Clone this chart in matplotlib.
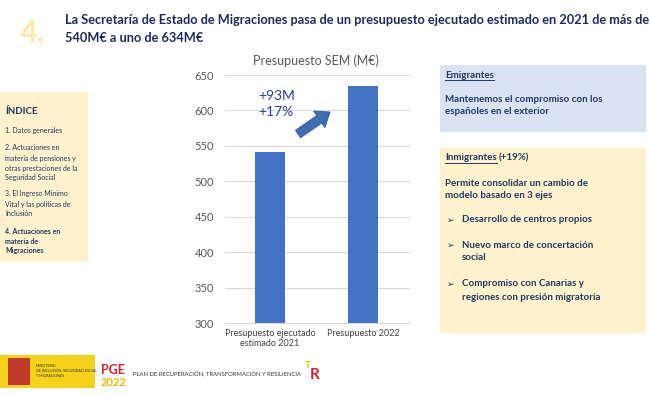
import numpy as np
import matplotlib
matplotlib.use('Agg')
import matplotlib.pyplot as plt
from matplotlib.patches import Rectangle, FancyArrow
from matplotlib.lines import Line2D
from matplotlib.transforms import Affine2D

plt.rcParams['font.family'] = ['Lato', 'DejaVu Sans']

# data
categories = ['Presupuesto ejecutado\nestimado 2021', 'Presupuesto 2022']
values = [541, 634]
yticks = [300, 350, 400, 450, 500, 550, 600, 650]

W, H = 650, 395
fig = plt.figure(figsize=(6.5, 3.95), dpi=100)
fig.patch.set_facecolor('white')
# pixel coords from the top-left corner
px = Affine2D().scale(1 / W, -1 / H).translate(0, 1) + fig.transFigure

def fx(x):
    return x / W

def fy(y):
    return 1 - y / H

def box(x0, y0, x1, y1, color):
    fig.patches.append(Rectangle((x0, y0), x1 - x0, y1 - y0, transform=px,
                                 facecolor=color, edgecolor='none', zorder=0))

def txt(x, y, s, **kw):
    kw.setdefault('color', '#1F3864')
    kw.setdefault('va', 'center')
    return fig.text(fx(x), fy(y), s, **kw)

navy = '#1F3864'

# title
txt(20, 33, '4.', fontsize=22, fontweight='bold', color='#FFE9A8')
txt(65, 20, 'La Secretaría de Estado de Migraciones pasa de un presupuesto ejecutado estimado en 2021 de más de',
    fontsize=9.2, fontweight='bold', color='#1F2A5C')
txt(65, 38, '540M€ a uno de 634M€', fontsize=9.2, fontweight='bold', color='#1F2A5C')

# index box
box(0, 92, 88, 262, '#FFF2CC')
txt(5, 111, 'ÍNDICE', fontsize=7, fontweight='bold')
idx_lines = [(130, '1. Datos generales', 'normal'),
             (148, '2. Actuaciones en', 'normal'),
             (158, 'materia de pensiones y', 'normal'),
             (168, 'otras prestaciones de la', 'normal'),
             (178, 'Seguridad Social', 'normal'),
             (194, '3. El Ingreso Mínimo', 'normal'),
             (204, 'Vital y las políticas de', 'normal'),
             (214, 'Inclusión', 'normal'),
             (231, '4. Actuaciones en', 'bold'),
             (241, 'materia de', 'bold'),
             (251, 'Migraciones', 'bold')]
for y, s, w in idx_lines:
    txt(5, y, s, fontsize=5, fontweight=w)

# right boxes
box(440, 65, 646, 132, '#DAE3F3')
box(440, 148, 646, 333, '#FFF2CC')

underlined = []
underlined.append(txt(445, 75, 'Emigrantes', fontsize=7, fontweight='bold'))
txt(445, 99, 'Mantenemos el compromiso con los', fontsize=7, fontweight='bold')
txt(445, 111, 'españoles en el exterior', fontsize=7, fontweight='bold')

inm = txt(445, 158, 'Inmigrantes', fontsize=7, fontweight='bold')
underlined.append(inm)
txt(445, 183, 'Permite consolidar un cambio de', fontsize=7, fontweight='bold')
txt(445, 196, 'modelo basado en 3 ejes', fontsize=7, fontweight='bold')
bullets = [(220, ['Desarrollo de centros propios']),
           (245, ['Nuevo marco de concertación', 'social']),
           (284, ['Compromiso con Canarias y', 'regiones con presión migratoria'])]
for y, lines in bullets:
    txt(447, y, '➢', fontsize=6.5, color=navy)
    for i, s in enumerate(lines):
        txt(462, y + 13 * i, s, fontsize=7, fontweight='bold')

# chart
ax = fig.add_axes([fx(225), fy(323), fx(410 - 225), (323 - 75) / H])
x = np.arange(len(values))
ax.bar(x, values, width=0.32, color='#4472C4', zorder=2)
ax.set_ylim(300, 650)
ax.set_xlim(-0.484, 1.505)
ax.set_yticks(yticks)
ax.set_xticks(x)
ax.set_xticklabels(categories, fontsize=6.5, color='#404040')
ax.tick_params(axis='y', labelsize=8, colors='#595959', length=0, pad=8)
ax.tick_params(axis='x', length=0, pad=4)
ax.grid(axis='y', color='#D9D9D9', linewidth=0.8, zorder=0)
for s in ax.spines.values():
    s.set_visible(False)
ax.spines['bottom'].set_visible(True)
ax.spines['bottom'].set_color('#D9D9D9')
ax.set_facecolor('none')
txt(316, 61, 'Presupuesto SEM (M€)', fontsize=9, color='#595959', ha='center')

# change annotation
txt(258, 96, '+93M', fontsize=10, color='#2F3F8F')
txt(258, 112, '+17%', fontsize=10, color='#2F3F8F')
fig.patches.append(FancyArrow(298, 134, 32, -22, width=9, head_width=20,
                              head_length=13, transform=px,
                              facecolor='#3C6EB4', edgecolor='#2F5597',
                              linewidth=0.6, length_includes_head=True, zorder=3))

# footer logos
box(0, 355, 95, 388, '#F5D21A')
box(8, 358, 30, 385, '#C0392B')
txt(36, 366, 'MINISTERIO', fontsize=2.6, color='#333333')
txt(36, 371, 'DE INCLUSIÓN, SEGURIDAD SOCIAL', fontsize=2.6, color='#333333')
txt(36, 376, 'Y MIGRACIONES', fontsize=2.6, color='#333333')
txt(101, 370, 'PGE', fontsize=9, fontweight='bold', color='#D0202E')
txt(101, 382, '2022', fontsize=8, fontweight='bold', color='#F2B705')
txt(133, 374, 'PLAN DE RECUPERACIÓN, TRANSFORMACIÓN Y RESILIENCIA', fontsize=4.2, color='#333333')
txt(305, 366, 'T', fontsize=7, fontweight='bold', color='#F2B705')
txt(310, 375, 'R', fontsize=11, fontweight='bold', color='#D0202E')

# underlines and the text after "Inmigrantes"
fig.canvas.draw()
r = fig.canvas.get_renderer()
inv = fig.transFigure.inverted()
for t in underlined:
    bb = t.get_window_extent(r).transformed(inv)
    fig.lines.append(Line2D([bb.x0, bb.x1], [bb.y0 - 0.002, bb.y0 - 0.002],
                            transform=fig.transFigure, color=navy, linewidth=0.7))
bb = inm.get_window_extent(r).transformed(inv)
fig.text(bb.x1 + 0.003, fy(158), '(+19%)', fontsize=7, fontweight='bold',
         color=navy, va='center')

fig.savefig('out.png', dpi=100)
